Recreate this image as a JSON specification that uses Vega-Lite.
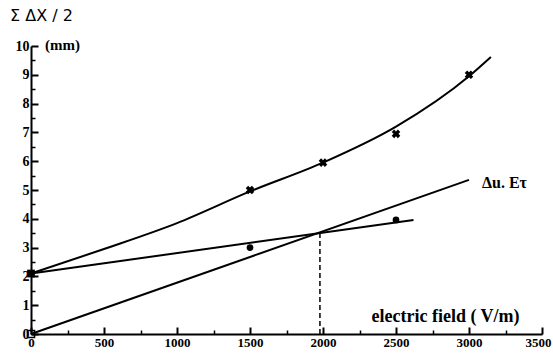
{
  "$schema": "https://vega.github.io/schema/vega-lite/v6.json",
  "autosize": {"type": "none"},
  "width": 511,
  "height": 288,
  "padding": {"left": 31, "top": 46, "right": 11, "bottom": 29},
  "background": "white",
  "title": {"text": "Σ ΔX / 2", "anchor": "start", "frame": "group", "dx": -21, "dy": -9, "font": "DejaVu Sans", "fontSize": 16, "fontWeight": "normal", "color": "black"},
  "config": {"view": {"stroke": null}},
  "resolve": {"axis": {"x": "independent", "y": "independent"}},
  "datasets": {
    "curve": [
      {"x": 0, "y": 2.1}, {"x": 500, "y": 2.95}, {"x": 1000, "y": 3.85}, {"x": 1500, "y": 4.95},
      {"x": 2000, "y": 5.95}, {"x": 2500, "y": 7.2}, {"x": 3000, "y": 8.95}, {"x": 3150, "y": 9.62}
    ],
    "mid": [{"x": 0, "y": 2.1}, {"x": 2620, "y": 3.96}],
    "du": [{"x": 0, "y": 0}, {"x": 3000, "y": 5.35}],
    "drop": [{"x": 1979, "y": 0}, {"x": 1979, "y": 3.54}],
    "crosses": [{"x": 1500, "y": 5.0}, {"x": 2000, "y": 5.95}, {"x": 2500, "y": 6.95}, {"x": 3000, "y": 9.0}],
    "dots": [{"x": 1500, "y": 3.0}, {"x": 2500, "y": 3.96}],
    "fsq": [{"x": 0, "y": 2.1}],
    "osq": [{"x": 0, "y": 0}],
    "lab": [{"x": 3089, "y": 5.25, "t": "Δu. Eτ"}]
  },
  "layer": [
    {
      "data": {"name": "curve"},
      "mark": {"type": "line", "color": "black", "strokeWidth": 2, "interpolate": "monotone"},
      "encoding": {
        "x": {"field": "x", "type": "quantitative", "scale": {"domain": [0, 3500], "nice": false},
          "axis": {"orient": "bottom", "values": [0, 500, 1000, 1500, 2000, 2500, 3000, 3500], "format": "d", "grid": false,
            "domainColor": "black", "domainWidth": 2, "tickColor": "black", "tickWidth": 2, "tickSize": -7,
            "labelFont": "Liberation Serif", "labelFontWeight": "bold", "labelFontSize": 13, "labelColor": "black", "labelPadding": 9,
            "labelFlush": false, "labelOverlap": false,
            "labelOffset": {"condition": {"test": "datum.value === 3500", "value": -4}, "value": 0},
            "title": "electric field ( V/m)", "titleFont": "Liberation Serif", "titleFontWeight": "bold", "titleFontSize": 18, "titleColor": "black",
            "titleX": 414, "titleY": -9, "titleAlign": "center", "titleBaseline": "bottom"}},
        "y": {"field": "y", "type": "quantitative", "scale": {"domain": [0, 10], "nice": false},
          "axis": {"orient": "left", "values": [0, 1, 2, 3, 4, 5, 6, 7, 8, 9, 10], "format": "d", "grid": false,
            "domainColor": "black", "domainWidth": 2, "tickColor": "black", "tickWidth": 2, "tickSize": -7,
            "labelFont": "Liberation Serif", "labelFontWeight": "bold", "labelFontSize": 14, "labelColor": "black", "labelPadding": 9,
            "labelFlush": false, "labelOverlap": false,
            "title": "(mm)", "titleAngle": 0, "titleFont": "Liberation Serif", "titleFontWeight": "bold", "titleFontSize": 15, "titleColor": "black",
            "titleX": 31, "titleY": -2, "titleAlign": "center", "titleBaseline": "middle"}}
      }
    },
    {
      "data": {"name": "mid"},
      "mark": {"type": "line", "color": "black", "strokeWidth": 2},
      "encoding": {
        "x": {"field": "x", "type": "quantitative",
          "axis": {"orient": "bottom", "values": [250, 750, 1250, 1750, 2250, 2750, 3250], "labels": false, "domain": false, "grid": false, "title": null,
            "tickColor": "black", "tickWidth": 1.5, "tickSize": -4}},
        "y": {"field": "y", "type": "quantitative",
          "axis": {"orient": "left", "values": [0.5, 1.5, 2.5, 3.5, 4.5, 5.5, 6.5, 7.5, 8.5, 9.5], "labels": false, "domain": false, "grid": false, "title": null,
            "tickColor": "black", "tickWidth": 1.5, "tickSize": -4}}
      }
    },
    {
      "data": {"name": "du"},
      "mark": {"type": "line", "color": "black", "strokeWidth": 2},
      "encoding": {"x": {"field": "x", "type": "quantitative", "axis": null}, "y": {"field": "y", "type": "quantitative", "axis": null}}
    },
    {
      "data": {"name": "drop"},
      "mark": {"type": "line", "color": "black", "strokeWidth": 1.5, "strokeDash": [5, 3]},
      "encoding": {"x": {"field": "x", "type": "quantitative", "axis": null}, "y": {"field": "y", "type": "quantitative", "axis": null}}
    },
    {
      "data": {"name": "crosses"},
      "mark": {"type": "point", "shape": "cross", "angle": 45, "filled": true, "color": "black", "size": 75, "opacity": 1},
      "encoding": {"x": {"field": "x", "type": "quantitative", "axis": null}, "y": {"field": "y", "type": "quantitative", "axis": null}}
    },
    {
      "data": {"name": "dots"},
      "mark": {"type": "point", "shape": "circle", "filled": true, "color": "black", "size": 45, "opacity": 1},
      "encoding": {"x": {"field": "x", "type": "quantitative", "axis": null}, "y": {"field": "y", "type": "quantitative", "axis": null}}
    },
    {
      "data": {"name": "fsq"},
      "mark": {"type": "point", "shape": "square", "filled": true, "color": "black", "size": 60, "opacity": 1, "clip": false},
      "encoding": {"x": {"field": "x", "type": "quantitative", "axis": null}, "y": {"field": "y", "type": "quantitative", "axis": null}}
    },
    {
      "data": {"name": "osq"},
      "mark": {"type": "point", "shape": "square", "filled": false, "color": "black", "strokeWidth": 1.5, "size": 50, "opacity": 1, "clip": false},
      "encoding": {"x": {"field": "x", "type": "quantitative", "axis": null}, "y": {"field": "y", "type": "quantitative", "axis": null}}
    },
    {
      "data": {"name": "lab"},
      "mark": {"type": "text", "align": "left", "baseline": "middle", "font": "Liberation Serif", "fontWeight": "bold", "fontSize": 16, "color": "black"},
      "encoding": {"x": {"field": "x", "type": "quantitative", "axis": null}, "y": {"field": "y", "type": "quantitative", "axis": null}, "text": {"field": "t"}}
    }
  ]
}
